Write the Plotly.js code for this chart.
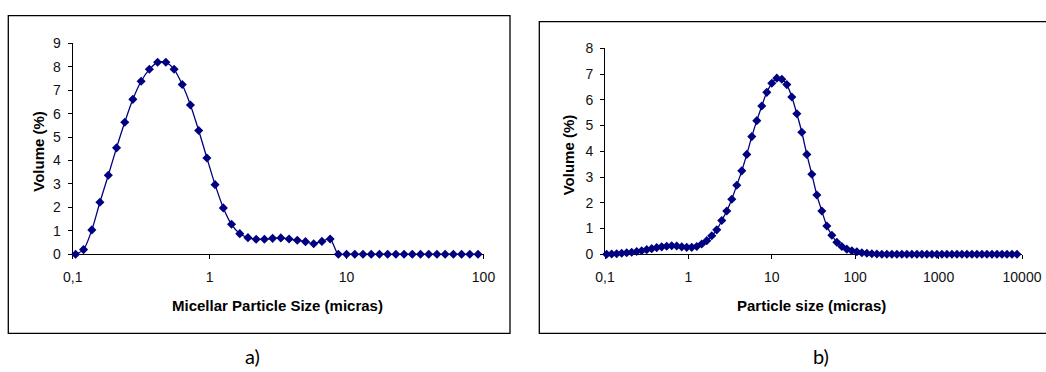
<!DOCTYPE html>
<html>
<head>
<meta charset="utf-8">
<script src="https://cdn.plot.ly/plotly-3.0.1.min.js"></script>
<style>
  html, body { margin: 0; padding: 0; background: #fff; }
  #chart { width: 1046px; height: 372px; }
</style>
</head>
<body>
<div id="chart"></div>
<script>
// a) micellar particle size distribution
const sizesA = [0.105, 0.120, 0.138, 0.158, 0.182, 0.209, 0.240, 0.275, 0.316, 0.363,
  0.417, 0.479, 0.550, 0.631, 0.724, 0.832, 0.955, 1.096, 1.259, 1.445,
  1.660, 1.905, 2.188, 2.512, 2.884, 3.311, 3.802, 4.365, 5.012, 5.754,
  6.607, 7.586, 8.710, 10.000, 11.482, 13.183, 15.136, 17.378, 19.953, 22.909,
  26.303, 30.200, 34.674, 39.811, 45.709, 52.481, 60.256, 69.183, 79.433, 91.201];
const volumeA = [0, 0.20, 1.04, 2.22, 3.37, 4.54, 5.63, 6.61, 7.38, 7.89,
  8.19, 8.19, 7.89, 7.24, 6.37, 5.28, 4.11, 2.97, 1.98, 1.28,
  0.88, 0.71, 0.64, 0.64, 0.68, 0.70, 0.65, 0.60, 0.54, 0.45,
  0.55, 0.65, 0, 0, 0, 0, 0, 0, 0, 0,
  0, 0, 0, 0, 0, 0, 0, 0, 0, 0];

// b) particle size distribution
const sizesB = [0.1047, 0.1202, 0.1380, 0.1585, 0.1820, 0.2089, 0.2399, 0.2754, 0.3162, 0.3631,
  0.4169, 0.4786, 0.5495, 0.6310, 0.7244, 0.8318, 0.9550, 1.0965, 1.2589, 1.4454,
  1.6596, 1.9055, 2.1878, 2.5119, 2.8840, 3.3113, 3.8019, 4.3652, 5.0119, 5.7544,
  6.6069, 7.5858, 8.7096, 10.000, 11.482, 13.183, 15.136, 17.378, 19.953, 22.909,
  26.303, 30.200, 34.674, 39.811, 45.709, 52.481, 60.256, 69.183, 79.433, 91.201,
  104.71, 120.23, 138.04, 158.49, 181.97, 208.93, 239.88, 275.42, 316.23, 363.08,
  416.87, 478.63, 549.54, 630.96, 724.44, 831.76, 954.99, 1096.5, 1258.9, 1445.4,
  1659.6, 1905.5, 2187.8, 2511.9, 2884.0, 3311.3, 3801.9, 4365.2, 5011.9, 5754.4,
  6606.9, 7585.8, 8709.6];
const volumeB = [0.00, 0.01, 0.02, 0.04, 0.06, 0.08, 0.11, 0.14, 0.18, 0.22,
  0.26, 0.29, 0.31, 0.33, 0.32, 0.29, 0.27, 0.27, 0.30, 0.40,
  0.53, 0.72, 0.95, 1.31, 1.68, 2.14, 2.68, 3.24, 3.88, 4.57,
  5.19, 5.76, 6.29, 6.64, 6.84, 6.80, 6.59, 6.11, 5.46, 4.74,
  3.88, 3.11, 2.30, 1.68, 1.10, 0.74, 0.47, 0.30, 0.20, 0.14,
  0.10, 0.06, 0.04, 0.02, 0.01, 0, 0, 0, 0, 0,
  0, 0, 0, 0, 0, 0, 0, 0, 0, 0,
  0, 0, 0, 0, 0, 0, 0, 0, 0, 0,
  0, 0, 0];

// tick labels (decimal comma)
const tickValsA = [0.1, 1, 10, 100];
const tickTextA = ['0,1', '1', '10', '100'];
const tickValsB = [0.1, 1, 10, 100, 1000, 10000];
const tickTextB = ['0,1', '1', '10', '100', '1000', '10000'];

const titleXA = 'Micellar Particle Size (micras)';
const titleXB = 'Particle size (micras)';
const titleY = 'Volume (%)';
const captionA = 'a)';
const captionB = 'b)';

const W = 1046, H = 372;
const px = v => v / W;
const py = v => 1 - v / H;

const NAVY = '#000080';
const FONT = 'Liberation Sans, Arial, sans-serif';
const tickFont = { family: FONT, size: 14, color: '#111' };

function series(x, y, xa, ya) {
  return {
    type: 'scatter', mode: 'lines+markers', x: x, y: y,
    xaxis: xa, yaxis: ya, cliponaxis: false, hoverinfo: 'x+y',
    line: { color: NAVY, width: 1.3, shape: 'spline', smoothing: 0.8 },
    marker: { symbol: 'diamond', size: 7, color: NAVY, line: { width: 0 } }
  };
}

function xAxis(domain, range, vals, text, anchor) {
  return {
    type: 'log', domain: domain, range: range, anchor: anchor,
    tickmode: 'array', tickvals: vals, ticktext: text,
    showline: true, linecolor: '#000', linewidth: 1,
    ticks: 'outside', ticklen: 4, tickcolor: '#000', tickwidth: 1,
    ticklabelstandoff: 6,
    showgrid: false, zeroline: false, layer: 'below traces',
    tickfont: tickFont,
    fixedrange: true
  };
}

function yAxis(domain, max, anchor) {
  return {
    domain: domain, range: [0, max], anchor: anchor,
    tickmode: 'linear', tick0: 0, dtick: 1,
    showline: true, linecolor: '#000', linewidth: 1,
    ticks: 'outside', ticklen: 4, tickcolor: '#000', tickwidth: 1,
    ticklabelstandoff: 4,
    showgrid: false, zeroline: false, layer: 'below traces',
    tickfont: tickFont,
    fixedrange: true
  };
}

const titleFont = { family: FONT, size: 15, color: '#000' };
const captionFont = { family: 'Lato, Open Sans, sans-serif', size: 20, color: '#000' };

const layout = {
  width: W, height: H,
  margin: { l: 0, r: 0, t: 0, b: 0 },
  paper_bgcolor: '#fff', plot_bgcolor: '#fff',
  showlegend: false,
  xaxis: xAxis([px(72.7), px(483.5)], [-1, 2], tickValsA, tickTextA, 'y'),
  yaxis: yAxis([py(254.3), py(43.3)], 9, 'x'),
  xaxis2: xAxis([px(605), px(1022)], [-1, 4], tickValsB, tickTextB, 'y2'),
  yaxis2: yAxis([py(254.3), py(48.3)], 8, 'x2'),
  shapes: [
    { type: 'rect', xref: 'paper', yref: 'paper',
      x0: px(8.3), x1: px(510), y0: py(333.3), y1: py(15.7),
      line: { color: '#000', width: 1.3 }, fillcolor: 'rgba(0,0,0,0)' },
    { type: 'rect', xref: 'paper', yref: 'paper',
      x0: px(539.3), x1: px(1060), y0: py(333.3), y1: py(21.7),
      line: { color: '#000', width: 1.3 }, fillcolor: 'rgba(0,0,0,0)' }
  ],
  annotations: [
    { xref: 'paper', yref: 'paper', x: px(277), y: py(305), text: '<b>' + titleXA + '</b>',
      showarrow: false, xanchor: 'center', yanchor: 'middle', font: titleFont },
    { xref: 'paper', yref: 'paper', x: px(37.7), y: py(151), text: '<b>' + titleY + '</b>',
      showarrow: false, xanchor: 'center', yanchor: 'middle', textangle: -90, font: titleFont },
    { xref: 'paper', yref: 'paper', x: px(811), y: py(305), text: '<b>' + titleXB + '</b>',
      showarrow: false, xanchor: 'center', yanchor: 'middle', font: titleFont },
    { xref: 'paper', yref: 'paper', x: px(568.3), y: py(155), text: '<b>' + titleY + '</b>',
      showarrow: false, xanchor: 'center', yanchor: 'middle', textangle: -90, font: titleFont },
    { xref: 'paper', yref: 'paper', x: px(252), y: py(356), text: captionA,
      showarrow: false, xanchor: 'center', yanchor: 'middle', font: captionFont },
    { xref: 'paper', yref: 'paper', x: px(821), y: py(356), text: captionB,
      showarrow: false, xanchor: 'center', yanchor: 'middle', font: captionFont }
  ]
};

const data = [
  series(sizesA, volumeA, 'x', 'y'),
  series(sizesB, volumeB, 'x2', 'y2')
];

Plotly.newPlot('chart', data, layout, { displayModeBar: false, staticPlot: true });
</script>
</body>
</html>
